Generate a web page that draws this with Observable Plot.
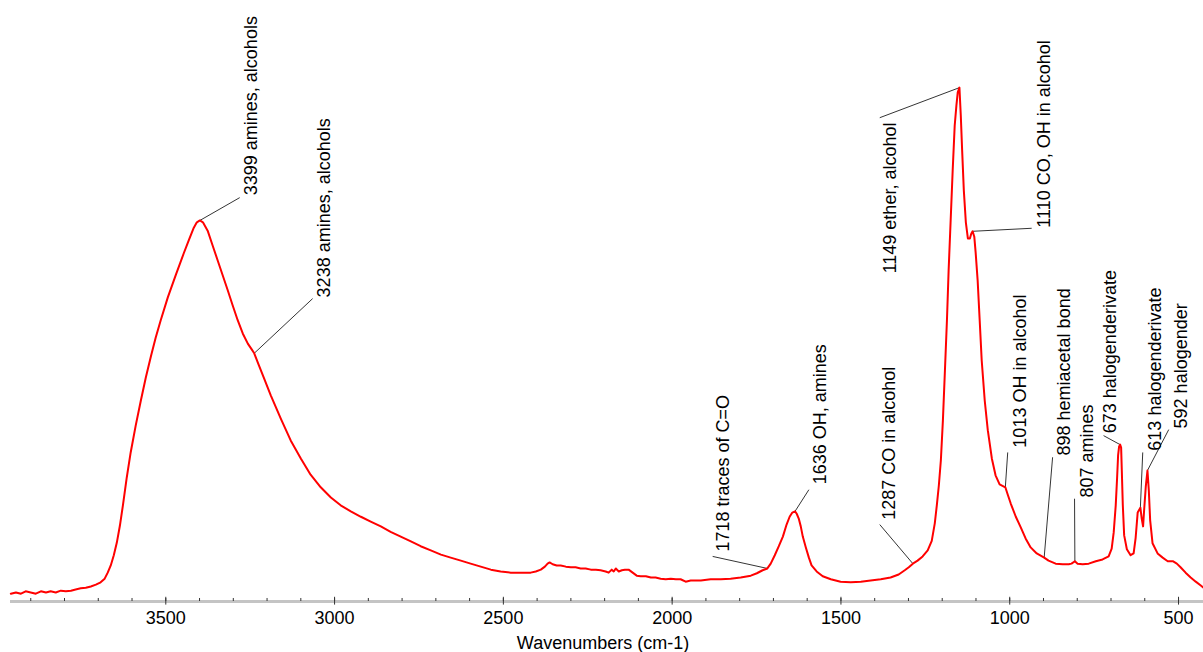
<!DOCTYPE html>
<html>
<head>
<meta charset="utf-8">
<script src="https://cdn.jsdelivr.net/npm/d3@7"></script>
<script src="https://cdn.jsdelivr.net/npm/@observablehq/plot@0.6"></script>
<style>
  html, body { margin: 0; padding: 0; background: #fff; }
  #chart svg { display: block; }
</style>
</head>
<body>
<div id="chart"></div>
<script>
// ---- Spectrum (wavenumber cm-1, absorbance) ----
const wavenumbers = [
  3959, 3944, 3929, 3915, 3900, 3885, 3870, 3855, 3841, 3826, 3811, 3796, 3781, 3767, 3752, 3737, 3722, 3707, 3693, 3681,
  3672, 3663, 3654, 3645, 3636, 3627, 3616, 3604, 3589, 3574, 3559, 3544, 3530, 3515, 3494, 3470, 3447, 3432, 3417, 3408,
  3399, 3390, 3376, 3361, 3346, 3331, 3316, 3302, 3287, 3272, 3257, 3245, 3238, 3225, 3210, 3189, 3159, 3130, 3100, 3071,
  3041, 3011, 2982, 2952, 2922, 2893, 2863, 2834, 2804, 2774, 2745, 2715, 2685, 2656, 2626, 2597, 2567, 2537, 2508, 2478,
  2448, 2419, 2404, 2389, 2377, 2369, 2363, 2354, 2342, 2330, 2315, 2300, 2286, 2271, 2256, 2241, 2226, 2212, 2197, 2188,
  2179, 2173, 2167, 2158, 2149, 2140, 2129, 2117, 2105, 2093, 2078, 2063, 2049, 2034, 2019, 2004, 1989, 1975, 1960, 1945,
  1930, 1915, 1886, 1856, 1827, 1797, 1767, 1749, 1732, 1718, 1708, 1696, 1684, 1672, 1661, 1652, 1644, 1636, 1631, 1625,
  1619, 1613, 1604, 1595, 1587, 1572, 1554, 1530, 1501, 1471, 1441, 1412, 1382, 1353, 1329, 1311, 1299, 1287, 1273, 1258,
  1243, 1231, 1222, 1216, 1210, 1204, 1198, 1192, 1186, 1181, 1175, 1169, 1163, 1158, 1154, 1149, 1145, 1141, 1136, 1130,
  1124, 1118, 1114, 1110, 1105, 1101, 1095, 1089, 1083, 1074, 1065, 1053, 1042, 1030, 1013, 1006, 997, 982, 967, 953,
  938, 920, 898, 885, 864, 843, 825, 817, 807, 799, 784, 766, 745, 725, 707, 698, 692, 686, 682, 679,
  676, 673, 670, 668, 665, 661, 653, 642, 633, 627, 621, 613, 609, 605, 602, 597, 592, 588, 584, 577,
  562, 547, 532, 517, 505, 494, 479, 464, 449, 435, 426
];
const absorbance = [
  0.013, 0.015, 0.013, 0.017, 0.015, 0.013, 0.017, 0.015, 0.017, 0.015, 0.018, 0.017, 0.018, 0.020, 0.022, 0.023, 0.025, 0.028, 0.032, 0.038,
  0.048, 0.060, 0.077, 0.098, 0.126, 0.160, 0.205, 0.248, 0.293, 0.334, 0.373, 0.408, 0.439, 0.468, 0.506, 0.544, 0.579, 0.601, 0.622, 0.631,
  0.634, 0.631, 0.617, 0.592, 0.567, 0.542, 0.517, 0.493, 0.468, 0.446, 0.429, 0.419, 0.413, 0.394, 0.373, 0.343, 0.304, 0.268, 0.238, 0.211,
  0.190, 0.173, 0.160, 0.150, 0.141, 0.133, 0.125, 0.116, 0.108, 0.100, 0.092, 0.085, 0.078, 0.073, 0.068, 0.063, 0.058, 0.053, 0.050, 0.048,
  0.048, 0.048, 0.050, 0.053, 0.058, 0.063, 0.065, 0.062, 0.060, 0.060, 0.058, 0.057, 0.057, 0.055, 0.055, 0.053, 0.053, 0.052, 0.050, 0.048,
  0.053, 0.050, 0.055, 0.050, 0.052, 0.053, 0.053, 0.048, 0.043, 0.042, 0.042, 0.040, 0.040, 0.038, 0.037, 0.038, 0.037, 0.037, 0.033, 0.035,
  0.035, 0.035, 0.037, 0.037, 0.038, 0.040, 0.043, 0.047, 0.052, 0.055, 0.063, 0.077, 0.092, 0.108, 0.128, 0.141, 0.148, 0.150, 0.146, 0.138,
  0.125, 0.108, 0.090, 0.073, 0.060, 0.050, 0.042, 0.037, 0.033, 0.032, 0.033, 0.035, 0.037, 0.040, 0.045, 0.052, 0.057, 0.063, 0.068, 0.075,
  0.085, 0.101, 0.130, 0.160, 0.193, 0.235, 0.301, 0.384, 0.468, 0.551, 0.634, 0.717, 0.792, 0.825, 0.847, 0.855, 0.809, 0.751, 0.684, 0.631,
  0.604, 0.604, 0.612, 0.616, 0.607, 0.581, 0.534, 0.468, 0.401, 0.334, 0.285, 0.238, 0.210, 0.195, 0.190, 0.178, 0.163, 0.141, 0.123, 0.105,
  0.090, 0.080, 0.073, 0.068, 0.063, 0.062, 0.062, 0.063, 0.067, 0.063, 0.062, 0.063, 0.067, 0.070, 0.075, 0.088, 0.115, 0.160, 0.205, 0.243,
  0.258, 0.261, 0.256, 0.218, 0.160, 0.110, 0.087, 0.077, 0.080, 0.106, 0.148, 0.156, 0.138, 0.125, 0.151, 0.191, 0.218, 0.185, 0.135, 0.097,
  0.080, 0.073, 0.067, 0.067, 0.063, 0.057, 0.048, 0.040, 0.033, 0.027, 0.023
];

// ---- Peak annotations ----
const peakWn = [3399, 3238, 1718, 1636, 1287, 1149, 1110, 1013, 898, 807, 673, 613, 592];
const peakLabels = [
  "3399 amines, alcohols",
  "3238 amines, alcohols",
  "1718 traces of C=O",
  "1636 OH, amines",
  "1287 CO in alcohol",
  "1149 ether, alcohol",
  "1110 CO, OH in alcohol",
  "1013 OH in alcohol",
  "898 hemiacetal bond",
  "807 amines",
  "673 halogenderivate",
  "613 halogenderivate",
  "592 halogender"
];
// leader line end points (data units)
const leaderWn  = [3281, 3065, 1880, 1595, 1385, 1385, 935, 1006, 873, 808, 722, 606, 529];
const leaderAbs = [0.672, 0.504, 0.075, 0.186, 0.128, 0.805, 0.621, 0.248, 0.240, 0.171, 0.276, 0.248, 0.286];
// label anchor (start of rotated text, data units)
const labelWn  = [3248, 3032, 1850, 1560, 1356, 1353, 899, 970, 840, 769, 701, 568, 491];
const labelAbs = [0.676, 0.506, 0.083, 0.195, 0.136, 0.546, 0.622, 0.256, 0.243, 0.173, 0.280, 0.251, 0.288];

// ---- Axis ----
const majorTicks = [3500, 3000, 2500, 2000, 1500, 1000, 500];
const minorTicks = d3.range(500, 4000, 100);
const xLabel = "Wavenumbers (cm-1)";

// ---- Build tables ----
const spectrum = wavenumbers.map((w, i) => ({w, a: absorbance[i]}));
function absAt(w) {
  for (let i = 0; i < wavenumbers.length - 1; i++) {
    const w0 = wavenumbers[i], w1 = wavenumbers[i + 1];
    if (w <= w0 && w >= w1) {
      const t = (w0 - w) / (w0 - w1 || 1);
      return absorbance[i] + t * (absorbance[i + 1] - absorbance[i]);
    }
  }
  return 0;
}
const annotations = peakWn.map((w, i) => ({
  pw: w, pa: absAt(w),
  lw: leaderWn[i], la: leaderAbs[i],
  tw: labelWn[i], ta: labelAbs[i],
  label: peakLabels[i]
}));

const font = "'Liberation Sans', Arial, Helvetica, sans-serif";

const chart = Plot.plot({
  width: 1203,
  height: 652,
  marginLeft: 10,
  marginRight: 0,
  marginTop: 0,
  marginBottom: 51,
  style: {fontFamily: font, fontSize: "18px", background: "#fff", color: "#000", overflow: "visible"},
  x: {domain: [3960, 426], ticks: majorTicks, tickSize: 0, tickPadding: 10, label: null, tickFormat: d => String(d)},
  y: {domain: [0, 1], axis: null},
  marks: [
    Plot.ruleY([0], {stroke: "#c4c4c4", strokeWidth: 3}),
    Plot.ruleX(minorTicks, {x: d => d, y1: 0, y2: 0.005, stroke: "#333", strokeWidth: 1}),
    Plot.ruleX(majorTicks, {x: d => d, y1: -0.006, y2: 0.007, stroke: "#333", strokeWidth: 1}),
    Plot.text([xLabel], {text: d => d, frameAnchor: "bottom", dx: -4, dy: 35, lineAnchor: "top", fontSize: 18, fill: "#000", fontFamily: font}),
    Plot.link(annotations, {x1: "pw", y1: "pa", x2: "lw", y2: "la", stroke: "#000", strokeWidth: 0.8}),
    Plot.line(spectrum, {x: "w", y: "a", stroke: "#ff0000", strokeWidth: 2}),
    Plot.text(annotations, {x: "tw", y: "ta", text: "label", rotate: -90, textAnchor: "start", lineAnchor: "middle", fontSize: 18, fill: "#000", fontFamily: font})
  ]
});
document.getElementById("chart").appendChild(chart);
</script>
</body>
</html>
